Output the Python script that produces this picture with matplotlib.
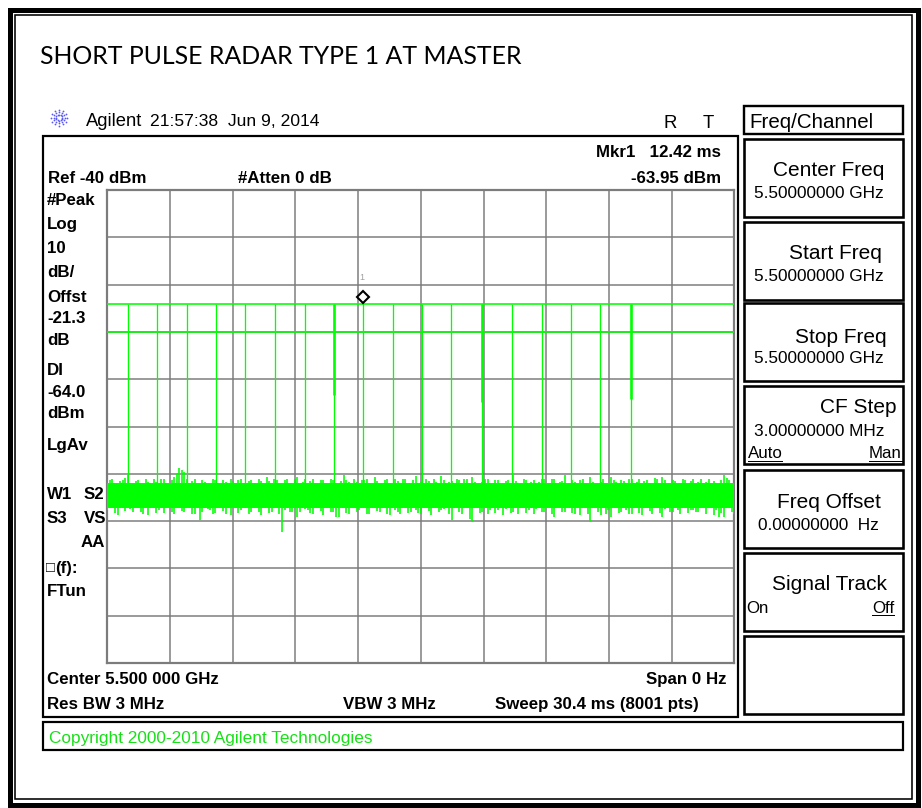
import numpy as np
import matplotlib
matplotlib.use("Agg")
import matplotlib.pyplot as plt
from matplotlib.patches import Rectangle
from matplotlib.transforms import offset_copy

# ---------------- zero-span sweep data ----------------
sweep_ms = 30.4
ref_dbm = -40.0
db_per_div = 10.0
display_line_dbm = -64.0
threshold_dbm = -70.0

pulse_times_ms = [0.99, 2.43, 3.87, 5.26, 6.69, 8.14, 9.58, 10.98, 12.42,
                  13.84, 15.25, 16.67, 18.19, 19.63, 21.07, 22.46, 23.90, 25.37]
pulse_peak_dbm = [-64.0, -64.0, -64.0, -64.0, -64.0, -64.0, -64.0, -64.0, -63.95,
                  -64.0, -64.0, -64.0, -64.0, -64.0, -64.0, -64.0, -64.0, -64.0]
pulse_base_dbm = -104.0

# pulses whose falling edge holds an intermediate sample
edge_times_ms = [10.98, 18.19, 25.37]
edge_level_dbm = [-83.3, -84.9, -84.2]

marker_time_ms = 12.42
marker_level_dbm = -63.95

# dense body of the noise floor
noise_core_hi_dbm = -102.0
noise_core_lo_dbm = -107.3

# noise excursions across the sweep: highest / lowest sample per column
noise_hi_dbm = [
    -102.0, -101.4, -101.0, -102.3, -102.5, -101.6, -101.3, -100.9, -100.3, -102.0,
    -102.2, -101.5, -101.3, -102.4, -102.6, -101.2, -101.7, -102.3, -101.0, -101.8,
    -102.4, -101.0, -101.1, -102.2, -102.3, -101.4, -100.6, -99.9, -98.8, -99.2,
    -99.6, -101.2, -102.0, -101.5, -101.0, -102.4, -102.4, -101.3, -101.7, -102.0,
    -102.0, -101.1, -101.3, -102.3, -102.5, -101.4, -101.7, -102.2, -101.1, -101.6,
    -102.4, -101.3, -101.0, -102.1, -102.3, -101.6, -101.3, -102.4, -102.0, -101.2,
    -101.5, -101.9, -100.6, -101.6, -102.3, -101.0, -101.3, -102.2, -102.0, -101.4,
    -101.0, -102.3, -102.4, -101.2, -100.6, -102.0, -101.7, -101.1, -102.5, -101.6,
    -101.0, -102.2, -102.0, -101.3, -101.4, -102.4, -102.6, -101.0, -101.3, -102.1,
    -102.0, -101.5, -100.2, -101.4, -101.8, -102.3, -101.0, -101.7, -102.5, -101.3,
    -101.4, -101.0, -102.1, -102.4, -100.6, -101.5, -101.9, -102.2, -101.3, -101.1,
    -102.5, -102.0, -101.0, -101.6, -102.0, -101.2, -101.2, -102.3, -102.4, -101.4,
    -100.4, -101.9, -101.7, -102.3, -101.2, -101.5, -102.3, -101.0, -101.7, -102.4,
    -100.4, -101.3, -102.2, -101.7, -101.6, -102.3, -101.0, -101.4, -102.4, -101.1,
    -101.2, -102.2, -100.6, -101.8, -102.2, -102.0, -101.7, -101.2, -101.0, -102.4,
    -102.3, -101.3, -101.3, -102.0, -102.0, -101.6, -101.4, -102.3, -100.3, -101.5,
    -102.1, -102.4, -101.1, -101.3, -102.4, -101.8, -101.3, -102.2, -101.8, -101.1,
    -101.0, -102.5, -102.3, -101.0, -101.1, -102.0, -101.7, -101.6, -100.3, -102.3,
    -102.2, -101.4, -101.7, -102.4, -101.3, -101.2, -102.2, -102.0, -100.6, -101.7,
    -101.9, -102.3, -101.7, -101.0, -102.4, -102.2, -100.6, -101.4, -101.8, -102.3,
    -101.3, -101.6, -102.3, -101.2, -101.0, -102.4, -101.7, -101.0, -102.4, -101.6,
    -101.3, -102.1, -101.9, -100.8, -101.1, -102.3, -100.6, -101.4, -102.2, -102.0,
    -101.3, -101.5, -101.9, -102.4, -101.0, -101.3, -102.3, -101.6, -101.1, -102.0,
    -101.7, -101.2, -102.4, -101.8, -101.0, -102.3, -101.5, -101.9, -102.2, -101.3,
    -100.2, -100.9, -101.3, -102.1, -102.0,
]
noise_lo_dbm = [
    -107.7, -107.0, -106.9, -108.2, -108.7, -107.1, -107.3, -107.9, -106.8, -107.4,
    -108.0, -106.9, -107.0, -108.1, -108.4, -107.2, -108.7, -107.0, -106.9, -108.3,
    -107.7, -107.1, -108.2, -106.9, -107.0, -108.0, -108.4, -107.2, -106.9, -107.8,
    -108.0, -107.0, -107.3, -108.4, -108.6, -107.1, -109.8, -108.0, -107.0, -107.4,
    -107.7, -108.6, -108.2, -107.0, -106.9, -107.9, -108.4, -106.9, -108.7, -107.3,
    -107.0, -108.2, -107.7, -107.0, -106.9, -108.4, -108.0, -107.2, -107.3, -108.1,
    -108.7, -107.0, -106.9, -108.3, -108.0, -107.1, -107.2, -108.4, -112.2, -107.6,
    -107.0, -108.1, -108.0, -107.2, -109.1, -108.0, -107.0, -107.5, -107.7, -108.3,
    -108.4, -107.0, -106.9, -107.9, -108.7, -107.2, -107.3, -108.0, -108.0, -109.1,
    -109.1, -107.3, -107.0, -108.2, -108.4, -107.0, -106.9, -108.0, -107.7, -107.1,
    -107.3, -108.6, -108.4, -107.0, -107.0, -107.9, -108.0, -107.2, -106.9, -108.4,
    -108.7, -107.1, -107.7, -108.0, -108.4, -107.1, -107.0, -108.3, -108.0, -107.0,
    -107.7, -108.2, -108.4, -107.0, -106.9, -107.8, -108.7, -107.1, -107.3, -108.0,
    -107.7, -107.4, -106.9, -108.6, -109.8, -107.2, -107.3, -108.0, -108.4, -107.0,
    -107.0, -109.6, -110.1, -107.3, -107.0, -108.2, -108.0, -107.0, -108.4, -107.6,
    -107.0, -108.3, -107.7, -107.0, -108.7, -107.4, -107.0, -108.2, -108.0, -107.1,
    -108.4, -107.0, -107.0, -108.3, -107.7, -107.0, -108.4, -107.5, -106.9, -108.1,
    -108.0, -107.0, -107.3, -108.4, -109.1, -107.2, -107.0, -108.0, -108.0, -107.1,
    -107.3, -108.2, -108.4, -107.0, -108.7, -107.3, -107.0, -108.5, -110.1, -107.2,
    -107.3, -108.0, -108.7, -107.0, -108.4, -107.6, -109.1, -107.0, -107.0, -108.2,
    -108.0, -107.2, -107.7, -108.4, -108.4, -107.0, -107.0, -108.2, -108.7, -107.3,
    -107.3, -107.9, -108.4, -107.0, -107.0, -108.3, -109.1, -107.4, -107.3, -108.0,
    -108.0, -107.2, -107.7, -108.4, -106.9, -107.0, -108.2, -107.6, -107.7, -108.0,
    -108.0, -107.1, -107.0, -108.4, -107.3, -107.0, -108.7, -107.7, -109.1, -108.2,
    -109.1, -107.3, -107.3, -108.0, -108.4,
]

# ---------------- text content ----------------
title_text = "SHORT PULSE RADAR TYPE 1 AT MASTER"
header_brand = "Agilent"
header_stamp = "21:57:38  Jun 9, 2014"
left_labels = ["#Peak", "Log", "10", "dB/", "Offst", "-21.3", "dB", "DI",
               "-64.0", "dBm", "LgAv"]
softkeys = [("Center Freq", "5.50000000 GHz"),
            ("Start Freq", "5.50000000 GHz"),
            ("Stop Freq", "5.50000000 GHz"),
            ("CF Step", "3.00000000 MHz"),
            ("Freq Offset", "0.00000000  Hz"),
            ("Signal Track", ""),
            ("", "")]

GREEN = "#00ff00"
GRID = "#7c7c7c"
SANS = ["Liberation Sans", "DejaVu Sans"]
PT = 0.72  # points per pixel at 100 dpi

fig = plt.figure(figsize=(9.22, 8.08), dpi=100)
fig.patch.set_facecolor("white")

# full-figure layer in pixel units (y grows downwards)
deco = fig.add_axes([0, 0, 1, 1])
deco.set_xlim(0, 922)
deco.set_ylim(808, 0)
deco.axis("off")


def txt(x, y, s, size, bold=False, ha="left", color="black", family=SANS):
    return deco.text(x, y, s, fontsize=size, fontweight="bold" if bold else "normal",
                     ha=ha, va="baseline", color=color, family=family)


def box(x0, y0, x1, y1, lw_px, color="black"):
    deco.add_patch(Rectangle((x0, y0), x1 - x0, y1 - y0, fill=False,
                             edgecolor=color, linewidth=lw_px * PT,
                             joinstyle="miter"))


# page frame: thick outer rule plus thin inner rule
box(9.5, 9.5, 917.5, 804.5, 5)
box(15, 15, 912, 799, 1.6)

# title
txt(40, 64, title_text, 17.9, family=["Lato", "DejaVu Sans"])

# instrument header line with the spark logo
cx, cy = 59, 117.5
for k in range(12):
    a = np.pi * k / 6
    r = np.array([3.0, 5.5, 8.0])
    deco.plot(cx + r * np.cos(a), cy + r * np.sin(a), "o", ms=1.3,
              color="#5a5af0", mec="none")
txt(86, 126, header_brand, 13.2)
txt(150, 126, header_stamp, 12.6)
txt(663, 128.3, "R", 13.4)
txt(703, 128.3, "T", 13.4)

# display window and the copyright strip
box(43, 136, 738, 717, 2.2)
box(43, 721.5, 903, 749.5, 2.2)
txt(49, 743.3, "Copyright 2000-2010 Agilent Technologies", 12.4, color="#18e018")

# annotations around the graticule
txt(721, 156.7, "Mkr1   12.42 ms", 12.2, bold=True, ha="right")
txt(721, 182.7, "-63.95 dBm", 12.2, bold=True, ha="right")
txt(48, 182.7, "Ref -40 dBm", 12.2, bold=True)
txt(238, 182.7, "#Atten 0 dB", 12.2, bold=True)
left_baselines = [205, 229.3, 253.3, 276.7, 301.7, 323.3, 345, 375, 396.7, 418.3, 450]
for s, yb in zip(left_labels, left_baselines):
    txt(47, yb, s, 12.2, bold=True)
txt(47, 499.3, "W1", 12.2, bold=True)
txt(84, 499.3, "S2", 12.2, bold=True)
txt(47, 523.3, "S3", 12.2, bold=True)
txt(84, 523.3, "VS", 12.2, bold=True)
txt(81, 547.3, "AA", 12.2, bold=True)
txt(46, 572, "\u25a1", 10.5, bold=True)
txt(55, 573.3, "(f):", 12.2, bold=True)
txt(47, 596, "FTun", 12.2, bold=True)
txt(47, 684.3, "Center 5.500 000 GHz", 12.2, bold=True)
txt(726, 684.3, "Span 0 Hz", 12.2, bold=True, ha="right")
txt(47, 709.3, "Res BW 3 MHz", 12.2, bold=True)
txt(343, 709.3, "VBW 3 MHz", 12.2, bold=True)
txt(495, 709.3, "Sweep 30.4 ms (8001 pts)", 12.2, bold=True)

# soft-key menu
box(743.5, 106, 903, 133.5, 2.4)
txt(749, 128.3, "Freq/Channel", 14.8)
key_tops = [139.3, 221.7, 303.3, 386, 470, 553.3, 636]
key_h = 78
label_right = [884.5, 882, 887, 896, 881, 887, 887]
label_base = [176, 259.3, 342.7, 413.3, 508.3, 590, 0]
value_base = [197.7, 280.7, 363.3, 436, 530, 0, 0]
value_left = [754, 754, 754, 754, 758, 0, 0]
for (lab, val), top, lr, lb, vb, vl in zip(softkeys, key_tops, label_right,
                                           label_base, value_base, value_left):
    box(743.5, top, 903, top + key_h, 2.6)
    if lab:
        txt(lr, lb, lab, 15.0, ha="right")
    if val:
        txt(vl, vb, val, 12.4)

fig.canvas.draw()
renderer = fig.canvas.get_renderer()
inv = deco.transData.inverted()


def underlined(x, y, s, size, ha="left"):
    t = txt(x, y, s, size, ha=ha)
    bb = t.get_window_extent(renderer=renderer)
    (x0, _), (x1, _) = inv.transform([(bb.x0, bb.y0), (bb.x1, bb.y0)])
    deco.plot([x0, x1], [y + 2.3, y + 2.3], color="black", lw=1.0 * PT)


underlined(747.5, 458.3, "Auto", 12.2)
underlined(901.5, 458.3, "Man", 12.2, ha="right")
txt(746, 612.7, "On", 12.2)
underlined(894, 612.7, "Off", 12.2, ha="right")

# ---------------- graticule and trace ----------------
ax = fig.add_axes([107.3 / 922, (808 - 663) / 808, 627 / 922, 473 / 808])
ax.set_facecolor("white")
ax.set_xlim(0, sweep_ms)
ax.set_ylim(ref_dbm - 10 * db_per_div, ref_dbm)
ax.set_xticks(np.linspace(0, sweep_ms, 11))
ax.set_yticks(np.arange(ref_dbm - 10 * db_per_div, ref_dbm + 1, db_per_div))
ax.tick_params(length=0, labelbottom=False, labelleft=False)
ax.grid(True, color=GRID, linewidth=1.5 * PT)
ax.set_axisbelow(True)
for sp in ax.spines.values():
    sp.set_color(GRID)
    sp.set_linewidth(2.2 * PT)

# noise floor: solid body plus per-column excursions
noise_t = np.linspace(0, sweep_ms, len(noise_hi_dbm))
ax.fill_between([0, sweep_ms], noise_core_lo_dbm, noise_core_hi_dbm,
                color=GREEN, linewidth=0, zorder=3)
ax.vlines(noise_t, noise_lo_dbm, noise_hi_dbm, color=GREEN,
          linewidth=1.6 * PT, zorder=3)

ax.vlines(pulse_times_ms, pulse_base_dbm, pulse_peak_dbm, color=GREEN,
          linewidth=1.3 * PT, zorder=4)
ax.vlines(edge_times_ms, edge_level_dbm, display_line_dbm, color=GREEN,
          linewidth=2.6 * PT, zorder=4)
ax.axhline(display_line_dbm, color=GREEN, linewidth=1.6 * PT, zorder=4)
ax.axhline(threshold_dbm, color=GREEN, linewidth=1.6 * PT, zorder=4)

# marker 1 sits just above the trace point it reads
mk_tr = offset_copy(ax.transData, fig=fig, x=0, y=6 * PT, units="points")
ax.plot([marker_time_ms], [marker_level_dbm], marker="D", ms=6.0,
        mfc="white", mec="black", mew=1.5, transform=mk_tr, zorder=6,
        clip_on=False)
lab_tr = offset_copy(ax.transData, fig=fig, x=-1.5, y=15.5, units="points")
ax.text(marker_time_ms, marker_level_dbm, "1", fontsize=6.5, color="#a0a0a0",
        ha="center", va="bottom", transform=lab_tr, family=SANS, zorder=6)

fig.savefig("out.png", dpi=100, facecolor="white")
